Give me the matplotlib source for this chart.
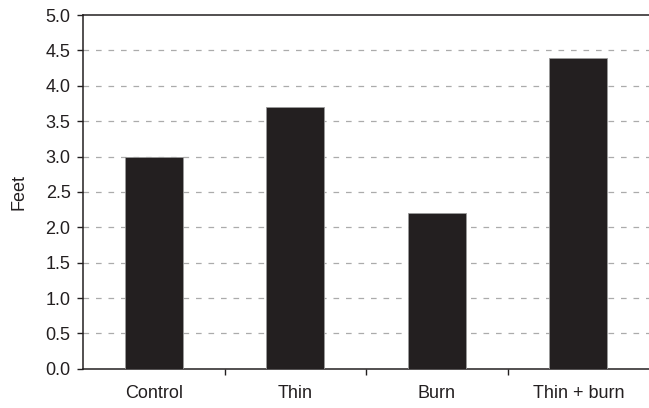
import matplotlib.pyplot as plt
import numpy as np

plt.rcParams['font.family'] = ['Liberation Sans', 'DejaVu Sans']

categories = ["Control", "Thin", "Burn", "Thin + burn"]
feet = [3.0, 3.7, 2.2, 4.4]
yticks = [0.0, 0.5, 1.0, 1.5, 2.0, 2.5, 3.0, 3.5, 4.0, 4.5, 5.0]

fig = plt.figure(figsize=(6.49, 4.08), dpi=100)
ax = fig.add_axes([0.128, 0.096, 0.872, 0.867])

x = np.arange(len(categories))
ax.bar(x, feet, width=0.41, color="#231f20", edgecolor="#9a9a9a", linewidth=0.6, zorder=3)

ax.set_xlim(-0.5, len(categories) - 0.5)
ax.set_ylim(0, 5.0)
ax.set_yticks(yticks)
ax.set_yticklabels([f"{v:.1f}" for v in yticks], fontsize=13, color="#231f20")

# ticks between categories, labels centered under bars
ax.set_xticks(np.arange(0.5, len(categories) - 1, 1.0))
ax.set_xticklabels([])
ax.set_xticks(x, minor=True)
ax.set_xticklabels(categories, minor=True, fontsize=13, color="#231f20")
ax.tick_params(axis="x", which="minor", length=0, pad=12)
ax.tick_params(axis="x", which="major", direction="out", length=4, width=1, color="#231f20")
ax.tick_params(axis="y", direction="out", length=4, width=1, color="#231f20", pad=5)

for v in yticks[1:-1]:
    ax.axhline(v, color="#ababab", linewidth=0.9, linestyle=(0, (4.5, 5.5)), zorder=1)

ax.spines["right"].set_visible(False)
for s in ["top", "left", "bottom"]:
    ax.spines[s].set_color("#231f20")
    ax.spines[s].set_linewidth(1.1)

ax.set_ylabel("Feet", fontsize=13, color="#231f20", labelpad=13)

fig.savefig("out.png", dpi=100)
